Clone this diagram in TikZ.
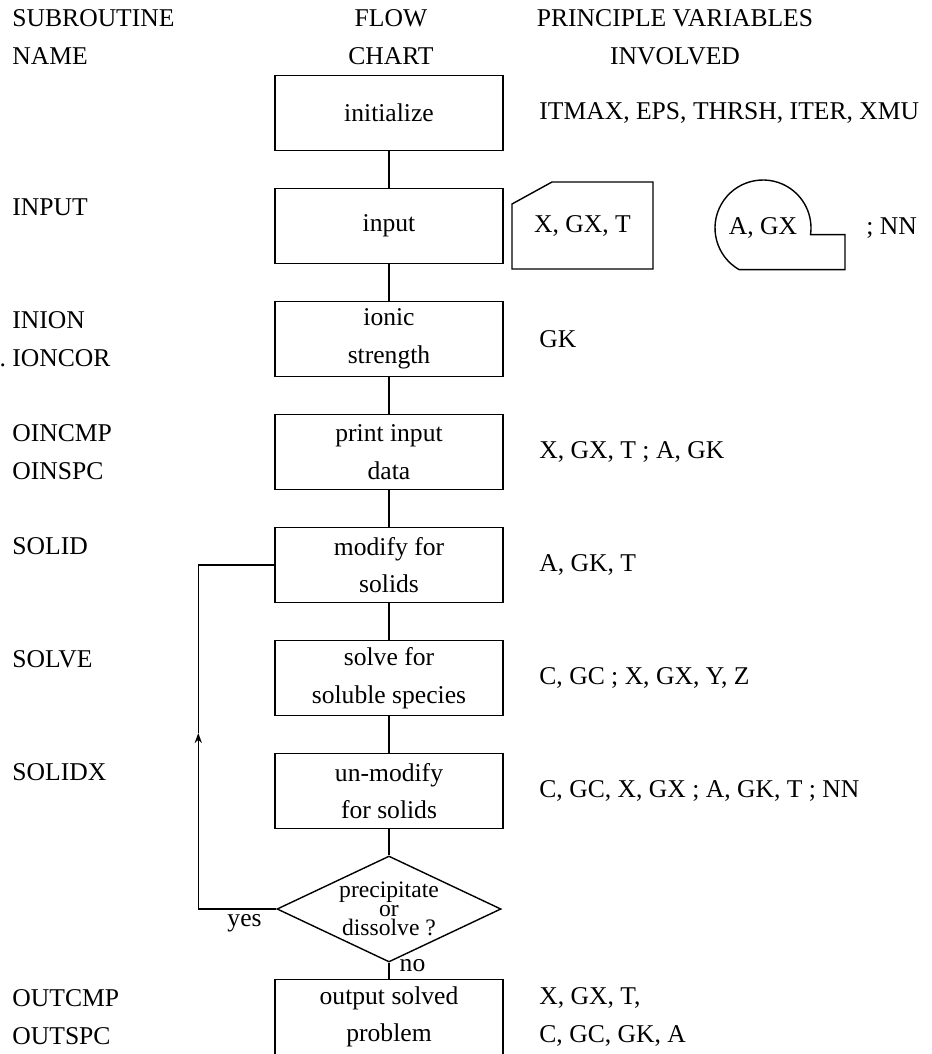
\documentclass[tikz,border=0pt]{standalone}
\usepackage{fontspec}
\setmainfont{Liberation Serif}
\usetikzlibrary{shapes.geometric, arrows.meta}

\begin{document}
\begin{tikzpicture}[x=0.5pt, y=0.5pt, node distance=56.5pt, font=\fontsize{12.8}{18.75}\selectfont]
        % Define styles
        \tikzstyle{process} = [rectangle, minimum width=114pt, minimum height=37.5pt, align=center, draw=black, line width=0.7pt]
        \tikzstyle{decision} = [diamond, minimum width=112pt, minimum height=53pt, inner sep=0pt, draw=black, line width=0.7pt]
        \tikzstyle{subname} = [anchor=west, align=left, inner sep=0pt]
        \tikzstyle{varlist} = [anchor=west, align=left, inner sep=0pt]
        \tikzstyle{heading} = [align=center, inner sep=0pt]
        \tikzstyle{yeslabel} = [anchor=north east, inner sep=0pt, xshift=-7pt, yshift=-2.5pt]
        \tikzstyle{nolabel} = [anchor=north west, inner sep=0pt, xshift=5pt, yshift=2pt]
        \tikzstyle{link} = [line width=0.7pt]
        \tikzstyle{arrow} = [line width=0.7pt, ->, >={Stealth[length=5pt, width=3.6pt]}]

        \useasboundingbox (0,0) rectangle (931,-1054);
        \coordinate (namecol) at (12,0);
        \coordinate (varcol) at (539,0);

        % Headings
        \node (hName) [subname] at (12,-37) {SUBROUTINE\\NAME};
        \node (hFlow) [heading] at (391,-37) {FLOW\\CHART};
        \node (hVars) [heading] at (675,-37) {PRINCIPLE VARIABLES\\INVOLVED};

        % Flow chart
        \node (init) [process] at (389,-113) {initialize};
        \node (input) [process, below of=init] {input};
        \node (ionic) [process, below of=input] {ionic\\strength};
        \node (print) [process, below of=ionic] {print input\\data};
        \node (modify) [process, below of=print] {modify for\\solids};
        \node (solve) [process, below of=modify] {solve for\\soluble species};
        \node (unmod) [process, below of=solve] {un-modify\\for solids};
        \node (decide) [decision, node distance=59pt, below of=unmod, label={[align=center, font=\fontsize{11.8}{9.6}\selectfont]center:{precipitate\\or\\dissolve ?}}] {};
        \node (output) [process, node distance=54pt, below of=decide] {output solved\\problem};

        % Subroutine names
        \node (nInput) [subname, yshift=9.4pt] at (namecol |- input) {INPUT};
        \node (nIonic) [subname] at (namecol |- ionic) {INION\\\llap{.\ }IONCOR};
        \node (nPrint) [subname] at (namecol |- print) {OINCMP\\OINSPC};
        \node (nModify) [subname, yshift=9.4pt] at (namecol |- modify) {SOLID};
        \node (nSolve) [subname, yshift=9.4pt] at (namecol |- solve) {SOLVE};
        \node (nUnmod) [subname, yshift=9.4pt] at (namecol |- unmod) {SOLIDX};
        \node (nOutput) [subname] at (namecol |- output) {OUTCMP\\OUTSPC};

        % Variables
        \node (vInit) [varlist] at (varcol |- init) {ITMAX, EPS, THRSH, ITER, XMU};
        \node (vIonic) [varlist] at (varcol |- ionic) {GK};
        \node (vPrint) [varlist] at (varcol |- print) {X, GX, T ; A, GK};
        \node (vModify) [varlist] at (varcol |- modify) {A, GK, T};
        \node (vSolve) [varlist] at (varcol |- solve) {C, GC ; X, GX, Y, Z};
        \node (vUnmod) [varlist] at (varcol |- unmod) {C, GC, X, GX ; A, GK, T ; NN};
        \node (vOutput) [varlist] at (varcol |- output) {X, GX, T,\\C, GC, GK, A};

        % Card and tape
        \node (card) [minimum width=70.5pt, minimum height=43.5pt, outer sep=0pt] at (582.5,-225.5) {X, GX, T};
        \draw [link] (card.south west) -- ([yshift=-11pt]card.north west) -- ([xshift=20pt]card.north west) -- (card.north east) -- (card.south east) -- cycle;
        \node (tape) [circle, minimum size=48pt, inner sep=0pt, outer sep=0pt] at (763,-228) {A, GX};
        \draw [link] (tape.240) arc [start angle=240, end angle=-8, radius=24pt] -- ++(34.5,0) -- ++(0,-35) -- cycle;
        \node (tapeNN) [varlist] at (866,-228) {; NN};

        % Arrows
        \draw [link] (init) -- (input);
        \draw [link] (input) -- (ionic);
        \draw [link] (ionic) -- (print);
        \draw [link] (print) -- (modify);
        \draw [link] (modify) -- (solve);
        \draw [link] (solve) -- (unmod);
        \draw [link] (unmod) -- (decide);
        \draw [link] (decide.south) node[nolabel] {no} -- (output);
        \coordinate (loopx) at ([xshift=-38pt]modify.west);
        \coordinate (yesup) at (loopx |- 0,-733);
        \draw [arrow] (decide.west) node[yeslabel] {yes} -| (yesup);
        \draw [link] (yesup) |- (modify.west);
    \end{tikzpicture}
\end{document}
